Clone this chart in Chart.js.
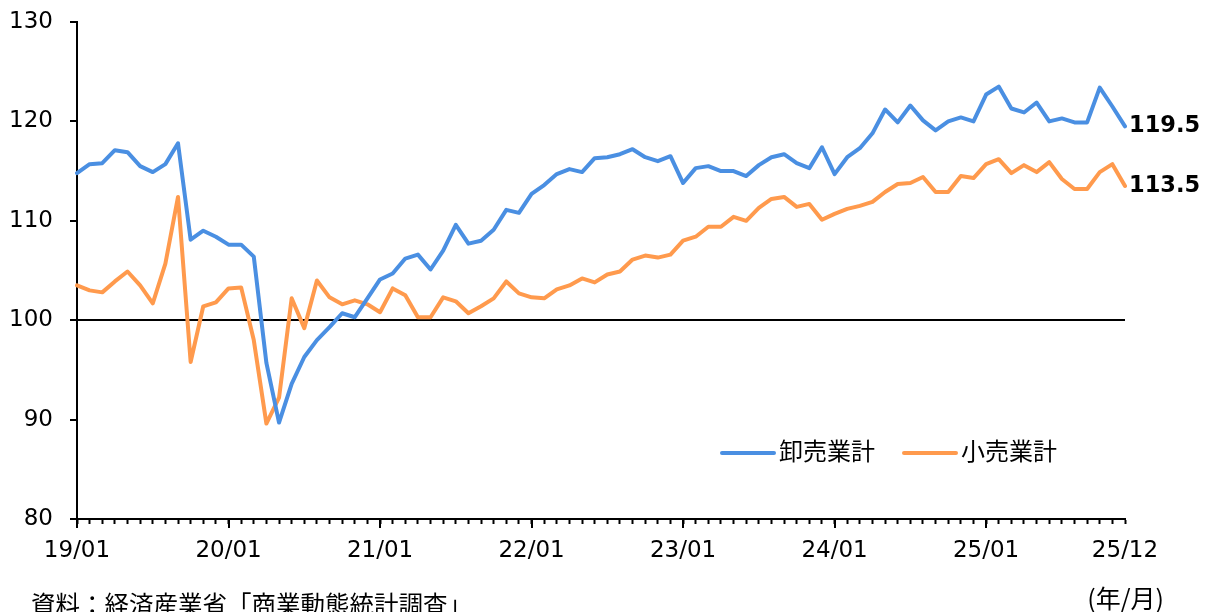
<!DOCTYPE html>
<html><head><meta charset="utf-8">
<script src="https://cdn.jsdelivr.net/npm/chart.js@4/dist/chart.umd.min.js"></script>
<style>html,body{margin:0;padding:0;background:#fff;overflow:hidden}#wrap{width:1212px;height:612px;position:relative}</style>
</head><body><div id="wrap"><canvas id="c" width="1212" height="612"></canvas></div>
<script>
const months = [];
for (let yr = 19; yr <= 25; yr++) for (let m = 1; m <= 12; m++) months.push(yr + '/' + String(m).padStart(2, '0'));
const tickLabels = ['19/01','20/01','21/01','22/01','23/01','24/01','25/01','25/12'];
const seriesNames = ['卸売業計', '小売業計'];
const wholesale = [
 114.8,115.7,115.8,117.1,116.9,115.5,114.9,115.7,117.8,108.1,109.0,108.4,
 107.6,107.6,106.4,95.7,89.7,93.6,96.3,98.0,99.3,100.7,100.3,102.2,
 104.1,104.7,106.2,106.6,105.1,107.0,109.6,107.7,108.0,109.1,111.1,110.8,
 112.7,113.6,114.7,115.2,114.9,116.3,116.4,116.7,117.2,116.4,116.0,116.5,
 113.8,115.3,115.5,115.0,115.0,114.5,115.6,116.4,116.7,115.8,115.3,117.4,
 114.7,116.4,117.3,118.8,121.2,119.9,121.6,120.1,119.1,120.0,120.4,120.0,
 122.7,123.5,121.3,120.9,121.9,120.0,120.3,119.9,119.9,123.4,121.5,119.5
];
const retail = [
 103.5,103.0,102.8,103.9,104.9,103.5,101.7,105.7,112.4,95.8,101.4,101.8,
 103.2,103.3,98.0,89.6,92.2,102.2,99.2,104.0,102.3,101.6,102.0,101.6,
 100.8,103.2,102.5,100.3,100.3,102.3,101.9,100.7,101.4,102.2,103.9,102.7,
 102.3,102.2,103.1,103.5,104.2,103.8,104.6,104.9,106.1,106.5,106.3,106.6,
 108.0,108.4,109.4,109.4,110.4,110.0,111.3,112.2,112.4,111.4,111.7,110.1,
 110.7,111.2,111.5,111.9,112.9,113.7,113.8,114.4,112.9,112.9,114.5,114.3,
 115.7,116.2,114.8,115.6,114.9,115.9,114.2,113.2,113.2,114.9,115.7,113.5
];
const colors = ['#4a8fe2', '#ff9a4d'];
const footnote = '資料：経済産業省「商業動態統計調査」';
const unitLabel = '(年/月)';

const extras = {
  id: 'extras',
  afterDraw(chart) {
    const { ctx, chartArea, scales } = chart;
    const x = scales.x, y = scales.y;
    ctx.save();
    ctx.strokeStyle = '#000'; ctx.lineWidth = 2;
    months.forEach((m, i) => {
      if (m.endsWith('/01')) {
        const px = Math.round(x.getPixelForValue(i));
        ctx.beginPath(); ctx.moveTo(px, chartArea.bottom); ctx.lineTo(px, chartArea.bottom + 9); ctx.stroke();
      }
    });
    ctx.fillStyle = '#000';
    ctx.font = 'bold 22.5px "DejaVu Sans"';
    ctx.textAlign = 'left'; ctx.textBaseline = 'middle';
    [wholesale, retail].forEach(arr => {
      const last = arr.length - 1;
      const px = x.getPixelForValue(last), py = y.getPixelForValue(arr[last]);
      ctx.fillText(arr[last].toFixed(1), px + 4, py);
    });
    ctx.font = '24px "Noto Sans CJK JP"';
    const legendX = [722, 904], legendY = 453;
    seriesNames.forEach((n, k) => {
      ctx.strokeStyle = colors[k]; ctx.lineWidth = 4; ctx.lineCap = 'round';
      ctx.beginPath(); ctx.moveTo(legendX[k], legendY); ctx.lineTo(legendX[k] + 52, legendY); ctx.stroke();
      ctx.fillStyle = '#000'; ctx.textBaseline = 'middle';
      ctx.fillText(n, legendX[k] + 57, legendY - 2);
    });
    ctx.textAlign = 'right';
    ctx.font = '25px "Noto Sans CJK JP"';
    ctx.fillText(unitLabel, 1164, 598);
    ctx.textAlign = 'left'; ctx.textBaseline = 'top';
    ctx.font = '24.5px "Noto Sans CJK JP"';
    ctx.fillText(footnote, 31, 592);
    ctx.restore();
  }
};

new Chart(document.getElementById('c'), {
  type: 'line',
  data: {
    labels: months,
    datasets: [
      { label: seriesNames[0], data: wholesale, borderColor: colors[0], backgroundColor: colors[0], borderWidth: 4, pointRadius: 0, tension: 0, borderJoinStyle: 'round', borderCapStyle: 'round' },
      { label: seriesNames[1], data: retail, borderColor: colors[1], backgroundColor: colors[1], borderWidth: 4, pointRadius: 0, tension: 0, borderJoinStyle: 'round', borderCapStyle: 'round' }
    ]
  },
  options: {
    responsive: false, animation: false, devicePixelRatio: 1,
    layout: { padding: { top: 22, right: 87, bottom: 0, left: 0 } },
    plugins: { legend: { display: false }, tooltip: { enabled: false } },
    scales: {
      x: {
        type: 'category', offset: false,
        afterFit: s => { s.height = 93; s.paddingLeft = 0; s.paddingRight = 0; },
        border: { display: true, color: '#000', width: 2 },
        grid: { display: true, drawOnChartArea: false, drawTicks: true, tickLength: 5, tickColor: '#000', tickWidth: 2, offset: false },
        ticks: {
          autoSkip: false, maxRotation: 0, minRotation: 0, padding: 13, color: '#000',
          font: { family: '"DejaVu Sans"', size: 23 },
          callback: function(v, i) { const l = months[i]; return tickLabels.includes(l) ? l : ''; }
        }
      },
      y: {
        min: 80, max: 130,
        afterFit: s => { s.width = 77; s.paddingTop = 0; s.paddingBottom = 0; },
        border: { display: true, color: '#000', width: 2 },
        grid: { display: true, drawOnChartArea: true, drawTicks: true, tickLength: 7, tickColor: '#000', tickWidth: 2,
          color: c => (c.tick && c.tick.value === 100) ? '#000' : 'rgba(0,0,0,0)', lineWidth: 2 },
        ticks: { stepSize: 10, padding: 17, color: '#000', font: { family: '"DejaVu Sans"', size: 23 } }
      }
    }
  },
  plugins: [extras]
});
</script></body></html>
